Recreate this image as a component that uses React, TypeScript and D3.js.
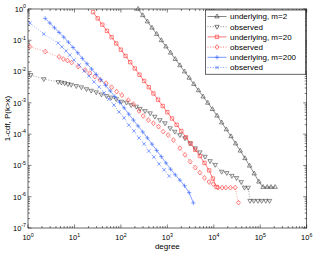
import * as d3 from 'd3'

// values, stored as [log10(degree), log10(1-cdf)]
const m2Underlying: [number, number][] = [
  [2.37, 0], [2.47, -0.2], [2.57, -0.4], [2.67, -0.6], [2.77, -0.8], [2.87, -1.0], [2.97, -1.2],
  [3.07, -1.4], [3.17, -1.6], [3.27, -1.8], [3.37, -2.0], [3.47, -2.2], [3.57, -2.4], [3.67, -2.6],
  [3.77, -2.8], [3.87, -3.0], [3.97, -3.2], [4.07, -3.41], [4.17, -3.63], [4.27, -3.85], [4.37, -4.07],
  [4.47, -4.3], [4.57, -4.53], [4.67, -4.77], [4.77, -5.01], [4.87, -5.26], [4.97, -5.52],
  [5.06, -5.69], [5.15, -5.69], [5.23, -5.69], [5.32, -5.69],
]
const m2Observed: [number, number][] = [
  [0.06, -2.11], [0.34, -2.24], [0.65, -2.33], [0.72, -2.35], [0.79, -2.37], [0.86, -2.4], [0.93, -2.42],
  [1.04, -2.46], [1.15, -2.5], [1.26, -2.56], [1.36, -2.61], [1.47, -2.66], [1.58, -2.73], [1.69, -2.78],
  [1.79, -2.83], [1.9, -2.88], [2.01, -2.96], [2.12, -2.99], [2.22, -3.07], [2.33, -3.12], [2.41, -3.19],
  [2.52, -3.26], [2.63, -3.33], [2.73, -3.44], [2.84, -3.55], [2.95, -3.65], [3.06, -3.81], [3.16, -3.92],
  [3.27, -4.03], [3.38, -4.13], [3.49, -4.29], [3.6, -4.45], [3.7, -4.58], [3.81, -4.72], [3.92, -4.86],
  [4.03, -4.98], [4.17, -5.2], [4.28, -5.24], [4.39, -5.33], [4.49, -5.4], [4.59, -5.53], [4.66, -5.71],
  [4.74, -5.71], [4.78, -6.13], [4.86, -6.13], [4.95, -6.13], [5.03, -6.13], [5.12, -6.13], [5.2, -6.13],
]
const m20Underlying: [number, number][] = [
  [1.4, -0.1], [1.5, -0.3], [1.6, -0.5], [1.7, -0.7], [1.8, -0.9], [1.9, -1.1], [2.0, -1.3], [2.1, -1.5],
  [2.2, -1.7], [2.3, -1.9], [2.4, -2.1], [2.5, -2.3], [2.6, -2.5], [2.7, -2.7], [2.8, -2.9], [2.9, -3.1],
  [3.0, -3.3], [3.1, -3.5], [3.2, -3.7], [3.3, -3.9], [3.4, -4.1], [3.5, -4.3], [3.6, -4.5], [3.7, -4.7],
  [3.8, -4.92], [3.9, -5.16], [3.98, -5.42], [4.06, -5.69],
]
const m20Observed: [number, number][] = [
  [0.04, -1.2], [0.37, -1.36], [0.67, -1.53], [0.76, -1.6], [0.85, -1.65], [0.94, -1.71], [1.08, -1.84],
  [1.23, -1.95], [1.33, -2.05], [1.44, -2.16], [1.55, -2.27], [1.68, -2.37], [1.8, -2.5], [1.91, -2.64],
  [2.02, -2.75], [2.16, -2.91], [2.27, -3.04], [2.39, -3.26], [2.48, -3.42], [2.59, -3.55], [2.7, -3.65],
  [2.81, -3.76], [2.91, -3.92], [3.02, -4.03], [3.13, -4.19], [3.27, -4.45], [3.38, -4.66], [3.49, -4.88],
  [3.6, -5.07], [3.7, -5.23], [3.8, -5.4], [3.9, -5.53], [3.99, -5.6], [4.09, -5.71], [4.18, -5.71],
  [4.26, -5.71], [4.36, -5.71], [4.46, -5.71], [4.53, -6.19],
]
const m200Underlying: [number, number][] = [
  [0.37, -0.3], [0.47, -0.45], [0.57, -0.6], [0.67, -0.75], [0.77, -0.9], [0.87, -1.06], [0.97, -1.23],
  [1.07, -1.4], [1.17, -1.58], [1.27, -1.75], [1.37, -1.92], [1.47, -2.09], [1.57, -2.26], [1.67, -2.44],
  [1.77, -2.62], [1.87, -2.8], [1.97, -2.98], [2.07, -3.16], [2.17, -3.36], [2.27, -3.55], [2.37, -3.74],
  [2.47, -3.93], [2.57, -4.12], [2.67, -4.32], [2.77, -4.52], [2.87, -4.72], [2.97, -4.92], [3.07, -5.12],
  [3.17, -5.3], [3.27, -5.47], [3.37, -5.65], [3.47, -5.87], [3.56, -6.2],
]
const m200Observed: [number, number][] = [
  [0.04, -0.45], [0.34, -0.8], [0.65, -1.09], [0.73, -1.21], [0.82, -1.34], [0.9, -1.47], [0.99, -1.63],
  [1.1, -1.79], [1.21, -1.98], [1.31, -2.14], [1.42, -2.33], [1.53, -2.49], [1.64, -2.68], [1.74, -2.88],
  [1.85, -3.07], [1.96, -3.29], [2.07, -3.48], [2.17, -3.71], [2.28, -3.9], [2.39, -4.12], [2.5, -4.31],
  [2.6, -4.54], [2.71, -4.73], [2.82, -4.95], [2.93, -5.14], [3.04, -5.34],
]

const xExponents = [0, 1, 2, 3, 4, 5, 6]
const yExponents = [0, -1, -2, -3, -4, -5, -6, -7]
const legendLabels = [
  'underlying, m=2', 'observed', 'underlying, m=20', 'observed', 'underlying, m=200', 'observed',
]

type Shape = 'tri-up' | 'tri-down' | 'square' | 'diamond' | 'plus' | 'cross'
interface Series { data: [number, number][]; color: string; marker: Shape; dotted: boolean }

const BLACK = '#333'
const RED = '#ff2020'
const BLUE = '#2456ff'

const series: Series[] = [
  { data: m2Underlying, color: BLACK, marker: 'tri-up', dotted: false },
  { data: m2Observed, color: BLACK, marker: 'tri-down', dotted: true },
  { data: m20Underlying, color: RED, marker: 'square', dotted: false },
  { data: m20Observed, color: RED, marker: 'diamond', dotted: true },
  { data: m200Underlying, color: BLUE, marker: 'plus', dotted: false },
  { data: m200Observed, color: BLUE, marker: 'cross', dotted: true },
]

const W = 318
const H = 253
const margin = { top: 9, right: 11.3, bottom: 25, left: 28 }
const FONT = 'Liberation Sans, Arial, Helvetica, sans-serif'

function markerPath(shape: Shape): string {
  switch (shape) {
    case 'tri-up': return 'M0,-2.5L2.2,1.4L-2.2,1.4Z'
    case 'tri-down': return 'M0,2.5L2.2,-1.4L-2.2,-1.4Z'
    case 'square': return 'M-1.7,-1.7H1.7V1.7H-1.7Z'
    case 'diamond': return 'M0,-2.4L2,0L0,2.4L-2,0Z'
    case 'plus': return 'M-2.2,0H2.2M0,-2.2V2.2'
    case 'cross': return 'M-1.7,-1.7L1.7,1.7M-1.7,1.7L1.7,-1.7'
  }
}

export default function App() {
  const x = d3.scaleLog().domain([1, 1e6]).range([margin.left, W - margin.right])
  const y = d3.scaleLog().domain([1e-7, 1]).range([H - margin.bottom, margin.top])
  const [x0, x1] = x.range()
  const [y0, y1] = y.range()

  const line = d3.line<[number, number]>()
    .x(d => x(10 ** d[0]))
    .y(d => y(10 ** d[1]))

  const minorX: number[] = []
  for (const e of xExponents.slice(0, -1)) for (let m = 2; m < 10; m++) minorX.push(m * 10 ** e)
  const minorY: number[] = []
  for (const e of yExponents.slice(1)) for (let m = 2; m < 10; m++) minorY.push(m * 10 ** e)

  const legX = 205.5
  const legY = 10
  const rowH = 10.2

  return (
    <svg width={W} height={H} style={{ position: 'absolute', left: 0, top: 0, background: '#fff' }}
      fontFamily={FONT}>
      <rect x={0} y={0} width={W} height={H} fill="#fff" />

      {/* ticks, on all four sides, pointing in */}
      <g stroke="#000" strokeWidth={0.5}>
        {xExponents.map(e => {
          const px = x(10 ** e)
          return <g key={'xM' + e}>
            <line x1={px} x2={px} y1={y0} y2={y0 - 3.5} />
            <line x1={px} x2={px} y1={y1} y2={y1 + 3.5} />
          </g>
        })}
        {minorX.map((v, i) => {
          const px = x(v)
          return <g key={'xm' + i}>
            <line x1={px} x2={px} y1={y0} y2={y0 - 2} />
            <line x1={px} x2={px} y1={y1} y2={y1 + 2} />
          </g>
        })}
        {yExponents.map(e => {
          const py = y(10 ** e)
          return <g key={'yM' + e}>
            <line x1={x0} x2={x0 + 3.5} y1={py} y2={py} />
            <line x1={x1} x2={x1 - 3.5} y1={py} y2={py} />
          </g>
        })}
        {minorY.map((v, i) => {
          const py = y(v)
          return <g key={'ym' + i}>
            <line x1={x0} x2={x0 + 2} y1={py} y2={py} />
            <line x1={x1} x2={x1 - 2} y1={py} y2={py} />
          </g>
        })}
      </g>

      {/* series */}
      {series.map((s, i) => (
        <g key={'s' + i}>
          <path d={line(s.data) ?? ''} fill="none" stroke={s.color} strokeWidth={0.55}
            strokeDasharray={s.dotted ? '1,1.6' : undefined} opacity={s.dotted ? 0.8 : 1} />
          {s.data.map((d, j) => (
            <path key={j} d={markerPath(s.marker)}
              transform={`translate(${x(10 ** d[0])},${y(10 ** d[1])})`}
              fill="none" stroke={s.color} strokeWidth={0.55} />
          ))}
        </g>
      ))}

      {/* axes box */}
      <rect x={x0} y={y1} width={x1 - x0} height={y0 - y1} fill="none" stroke="#000" strokeWidth={0.6} />

      {/* tick labels */}
      <g fontSize={7.5} fill="#000">
        {xExponents.map(e => (
          <text key={'xl' + e} x={x(10 ** e)} y={y0 + 12} textAnchor="middle">
            10<tspan dy={-3.5} fontSize={5.2}>{e}</tspan>
          </text>
        ))}
        {yExponents.map(e => (
          <text key={'yl' + e} x={x0 - 2} y={y(10 ** e) + 2.8} textAnchor="end">
            10<tspan dy={-3.5} fontSize={5.2}>{e}</tspan>
          </text>
        ))}
      </g>

      <text x={(x0 + x1) / 2} y={H - 4} textAnchor="middle" fontSize={8}>degree</text>
      <text transform={`translate(10,${(y0 + y1) / 2}) rotate(-90)`} textAnchor="middle" fontSize={8}>
        1-cdf, P(k&gt;x)
      </text>

      {/* legend */}
      <rect x={legX} y={legY} width={x1 - 1 - legX} height={rowH * 6 + 3} fill="#fff" stroke="#000" strokeWidth={0.6} />
      {series.map((s, i) => {
        const cy = legY + 6.5 + i * rowH
        return <g key={'lg' + i}>
          <line x1={legX + 2} x2={legX + 21} y1={cy} y2={cy} stroke={s.color} strokeWidth={0.6}
            strokeDasharray={s.dotted ? '1,1.6' : undefined} />
          <path d={markerPath(s.marker)} transform={`translate(${legX + 11.5},${cy})`}
            fill="none" stroke={s.color} strokeWidth={0.6} />
          <text x={legX + 24.5} y={cy + 2.8} fontSize={8}>{legendLabels[i]}</text>
        </g>
      })}
    </svg>
  )
}
